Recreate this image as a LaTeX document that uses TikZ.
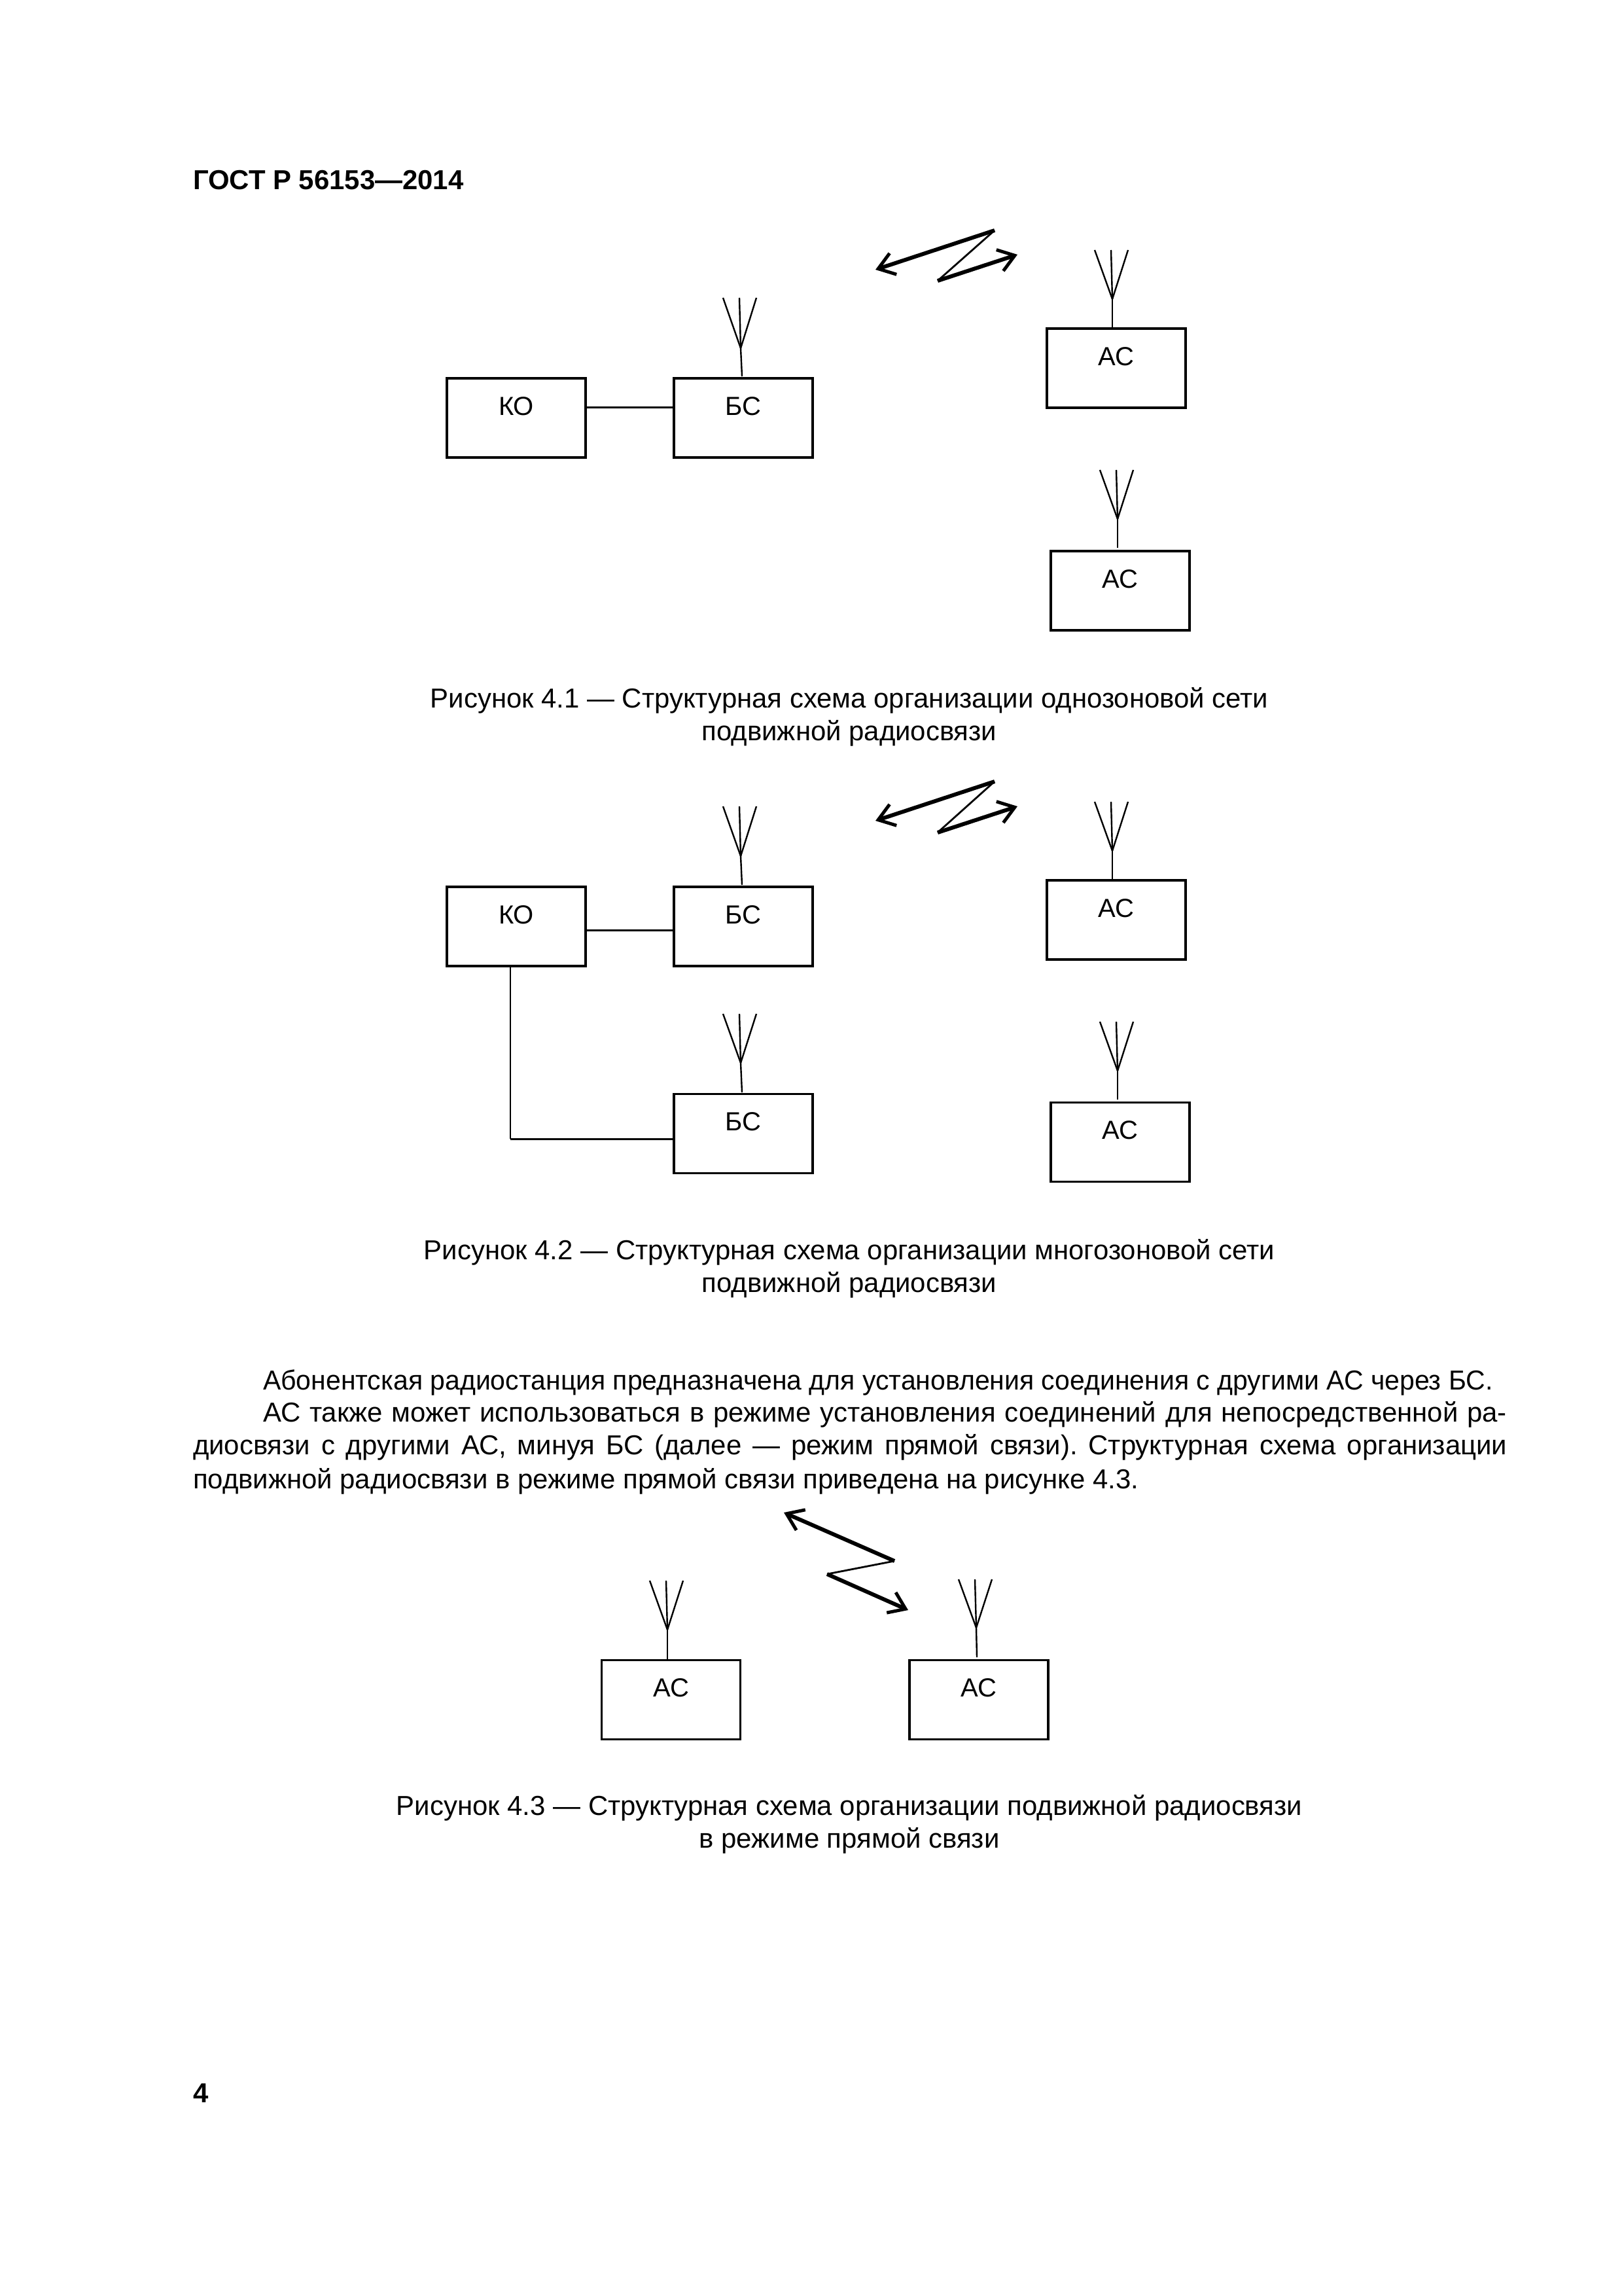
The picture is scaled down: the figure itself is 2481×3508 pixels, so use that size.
\documentclass[tikz,border=0pt]{standalone}
\usepackage{fontspec}
\usepackage{graphicx}
\setmainfont{Liberation Sans}
\usetikzlibrary{arrows.meta}
\tikzset{
  x=1pt,y=-1pt,
  every node/.style={inner sep=0pt,outer sep=0pt},
  body/.style={font=\fontsize{41.9}{50}\selectfont\frenchspacing},
  head/.style={font=\fontsize{41.9}{50}\selectfont\bfseries,anchor=base west},
  captext/.style={body,anchor=base},
  para/.style={body,anchor=base west},
  unit/.style={draw,line width=3.2pt,minimum width=212pt,minimum height=121pt},
  lab/.style={yshift=18pt,font=\fontsize{40}{48}\selectfont},
  wire/.style={line width=3pt},
  ant/.style={line width=2.4pt},
  zthick/.style={line width=6pt},
  zthin/.style={line width=2.8pt},
  barb/.style={-{Straight Barb[length=24pt,width=34pt,line width=5pt]}},
}
\newcommand{\antenna}[6]{%
  \coordinate (#1b) at (#2,#3);
  \coordinate (#1j) at (#4,#5);
  \coordinate (#1l) at (#4-27,#6);
  \coordinate (#1c) at (#4-2,#6);
  \coordinate (#1r) at (#4+24,#6);
  \draw[ant] (#1b) -- (#1j);
  \draw[ant] (#1j) -- (#1l);
  \draw[ant] (#1j) -- (#1c);
  \draw[ant] (#1j) -- (#1r);
}
\newcommand{\zigzag}[9]{%
  \coordinate (#1a) at (#2,#3);
  \coordinate (#1p) at (#4,#5);
  \coordinate (#1q) at (#6,#7);
  \coordinate (#1z) at (#8,#9);
  \draw[zthick,barb,line join=round] (#1p) -- (#1a);
  \draw[zthin] (#1p) -- (#1q);
  \draw[zthick,barb] (#1q) -- (#1z);
}
\begin{document}
\begin{tikzpicture}
\useasboundingbox (0,0) rectangle (2481,3508);
\node[head] (hdr) at (295,289) {ГОСТ Р 56153—2014};
\node[head] (pg) at (295,3212) {4};

% Figure 4.1
\node[unit,label={[lab]center:КО}] (ko1) at (789,638.5) {};
\node[unit,label={[lab]center:БС}] (bs1) at (1136,638.5) {};
\node[unit,label={[lab]center:АС}] (ac1) at (1706,562.5) {};
\node[unit,label={[lab]center:АС}] (ac2) at (1712,902.5) {};
\coordinate (y1) at (0,622.5);
\draw[wire] (ko1.east |- y1) -- (bs1.west |- y1);
\antenna{a1}{1134}{575}{1132}{532}{455}
\antenna{a2}{1700}{502}{1700}{457}{382}
\antenna{a3}{1708}{837}{1708}{793}{718}
\zigzag{z1}{1338}{412}{1520}{352}{1433}{429}{1555}{389}
\node[captext] (c1a) at (1298,1081) {Рисунок 4.1 — Структурная схема организации однозоновой сети};
\node[captext] (c1b) at (1298,1131) {подвижной радиосвязи};

% Figure 4.2
\node[unit,label={[lab]center:КО}] (ko2) at (789,1415.5) {};
\node[unit,label={[lab]center:БС}] (bs2) at (1136,1415.5) {};
\node[unit,label={[lab]center:БС}] (bs3) at (1136,1732) {};
\node[unit,label={[lab]center:АС}] (ac3) at (1706,1405.5) {};
\node[unit,label={[lab]center:АС}] (ac4) at (1712,1745) {};
\coordinate (y2) at (0,1421);
\draw[wire] (ko2.east |- y2) -- (bs2.west |- y2);
\coordinate (x3) at (780,0);
\coordinate (y3) at (0,1740);
\draw[wire,line width=2.6pt] (x3 |- ko2.south) -- (x3 |- y3);
\draw[wire] (x3 |- y3) -- (bs3.west |- y3);
\antenna{a4}{1134}{1352}{1132}{1308}{1232}
\antenna{a5}{1134}{1669}{1132}{1624}{1549}
\antenna{a6}{1700}{1346}{1700}{1300}{1225}
\antenna{a7}{1708}{1680}{1708}{1636}{1561}
\zigzag{z2}{1338}{1254}{1520}{1194}{1433}{1272}{1555}{1232}
\node[captext] (c2a) at (1298,1924) {Рисунок 4.2 — Структурная схема организации многозоновой сети};
\node[captext] (c2b) at (1298,1974) {подвижной радиосвязи};

% Text
\node[para] (p1) at (402,2123) {\scalebox{0.978}[1]{Абонентская радиостанция предназначена для установления соединения с другими АС через БС.}};
\node[para] (p2) at (402,2172) {\makebox[1901pt][s]{АС также может использоваться в режиме установления соединений для непосредственной ра-}};
\node[para] (p3) at (295,2222) {\makebox[2008pt][s]{диосвязи с другими АС, минуя БС (далее — режим прямой связи). Структурная схема организации}};
\node[para] (p4) at (295,2274) {подвижной радиосвязи в режиме прямой связи приведена на рисунке 4.3.};

% Figure 4.3
\node[unit,label={[lab]center:АС}] (ac5) at (1025.5,2597) {};
\node[unit,label={[lab]center:АС}] (ac6) at (1496,2597) {};
\antenna{a8}{1020}{2536}{1020}{2490}{2415}
\antenna{a9}{1493}{2532}{1492}{2487}{2413}
\zigzag{z3}{1198}{2311}{1367}{2385}{1264}{2405}{1388}{2460}
\node[captext] (c3a) at (1298,2773) {Рисунок 4.3 — Структурная схема организации подвижной радиосвязи};
\node[captext] (c3b) at (1298,2823) {в режиме прямой связи};
\end{tikzpicture}
\end{document}
